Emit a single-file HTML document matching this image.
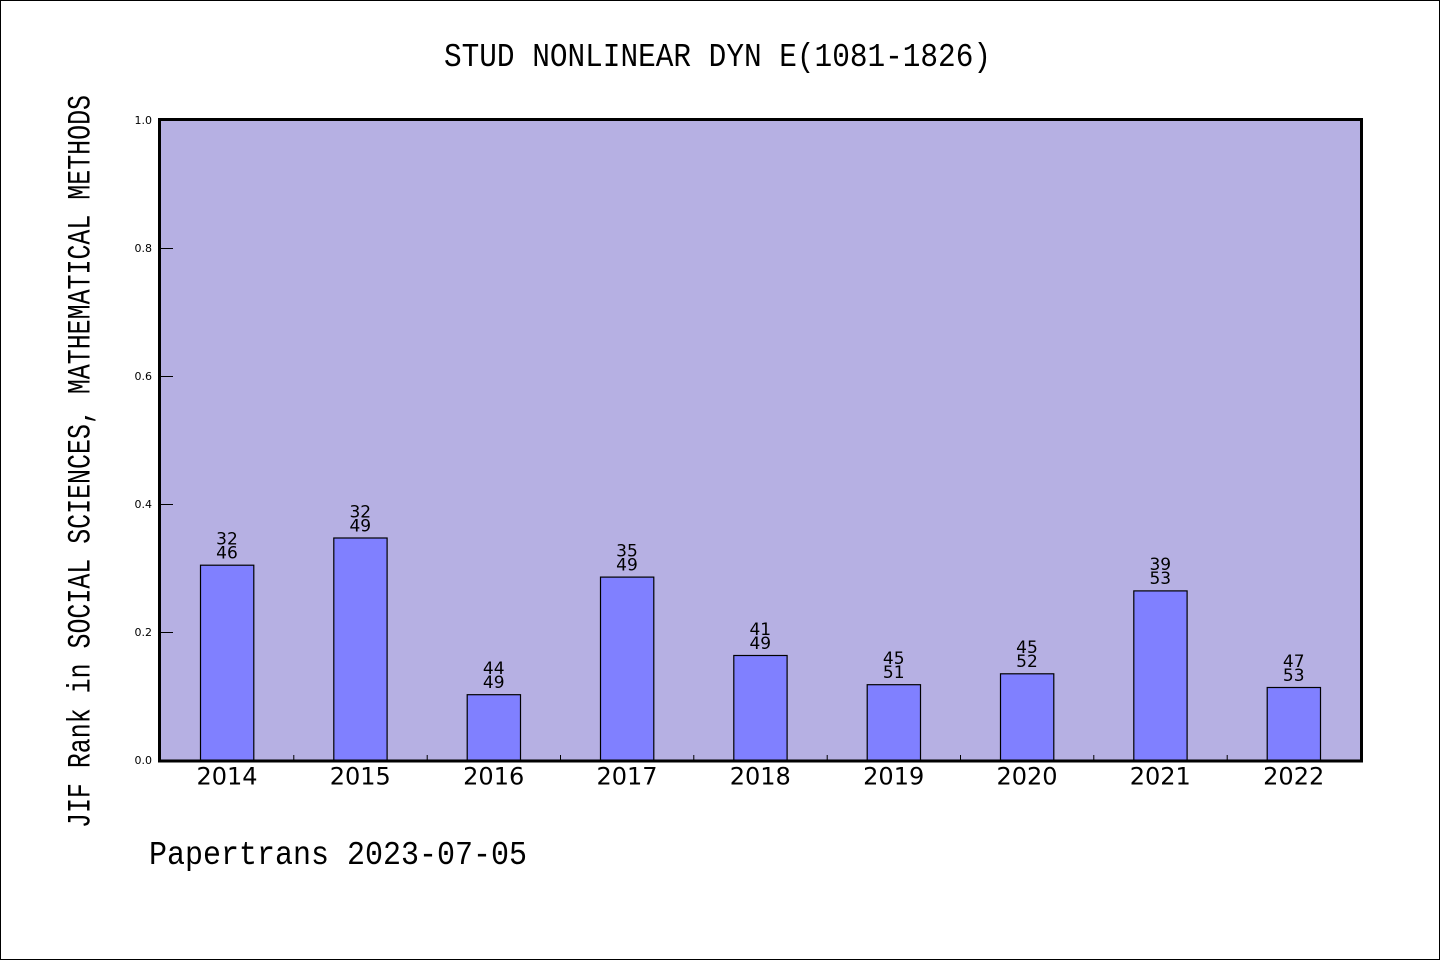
<!DOCTYPE html>
<html>
<head>
<meta charset="utf-8">
<style>
  html,body{margin:0;padding:0;background:#fff;}
  svg{display:block;}
</style>
</head>
<body>
<svg width="1440" height="960" viewBox="0 0 1440 960" xmlns="http://www.w3.org/2000/svg">
  <rect x="0.5" y="0.5" width="1439" height="959" fill="#fff" stroke="#000" stroke-width="1"/>

  <!-- title -->
  <text x="444" y="66" font-family="Liberation Mono, monospace" font-size="33" textLength="547" lengthAdjust="spacingAndGlyphs" fill="#000">STUD NONLINEAR DYN E(1081-1826)</text>

  <!-- plot background -->
  <rect x="160" y="120" width="1201" height="641" fill="#b6b0e3"/>

  <!-- y ticks -->
  <g stroke="#000" stroke-width="1">
    <line x1="161" y1="248.5" x2="173" y2="248.5"/>
    <line x1="161" y1="376.5" x2="173" y2="376.5"/>
    <line x1="161" y1="504.5" x2="173" y2="504.5"/>
    <line x1="161" y1="632.5" x2="173" y2="632.5"/>
  </g>
  <!-- x minor ticks -->
  <g stroke="#000" stroke-width="1">
    <line x1="293.8" y1="755" x2="293.8" y2="760"/>
    <line x1="427.2" y1="755" x2="427.2" y2="760"/>
    <line x1="560.5" y1="755" x2="560.5" y2="760"/>
    <line x1="693.8" y1="755" x2="693.8" y2="760"/>
    <line x1="827.2" y1="755" x2="827.2" y2="760"/>
    <line x1="960.5" y1="755" x2="960.5" y2="760"/>
    <line x1="1093.8" y1="755" x2="1093.8" y2="760"/>
    <line x1="1227.2" y1="755" x2="1227.2" y2="760"/>
  </g>

  <!-- bars -->
  <g fill="#8080ff" stroke="#000" stroke-width="1.2">
    <rect x="200.5" y="565.2" width="53.3" height="195"/>
    <rect x="333.8" y="538.0" width="53.3" height="222.2"/>
    <rect x="467.2" y="694.7" width="53.3" height="65.5"/>
    <rect x="600.5" y="577.1" width="53.3" height="183.1"/>
    <rect x="733.8" y="655.5" width="53.3" height="104.7"/>
    <rect x="867.2" y="684.7" width="53.3" height="75.5"/>
    <rect x="1000.5" y="673.8" width="53.3" height="86.4"/>
    <rect x="1133.8" y="590.9" width="53.3" height="169.3"/>
    <rect x="1267.2" y="687.5" width="53.3" height="72.7"/>
  </g>

  <!-- bar labels -->
  <g font-family="DejaVu Sans, Liberation Sans, sans-serif" font-size="17" text-anchor="middle" fill="#000">
    <text x="227" y="544.5">32</text><text x="227" y="558.5">46</text>
    <text x="360.3" y="517.3">32</text><text x="360.3" y="531.3">49</text>
    <text x="493.7" y="674">44</text><text x="493.7" y="688">49</text>
    <text x="627" y="556.4">35</text><text x="627" y="570.4">49</text>
    <text x="760.3" y="634.8">41</text><text x="760.3" y="648.8">49</text>
    <text x="893.7" y="664">45</text><text x="893.7" y="678">51</text>
    <text x="1027" y="653.1">45</text><text x="1027" y="667.1">52</text>
    <text x="1160.3" y="570.2">39</text><text x="1160.3" y="584.2">53</text>
    <text x="1293.7" y="666.8">47</text><text x="1293.7" y="680.8">53</text>
  </g>

  <!-- frame -->
  <rect x="159.5" y="119.5" width="1202" height="641.5" fill="none" stroke="#000" stroke-width="3"/>

  <!-- y tick labels -->
  <g font-family="DejaVu Sans, Liberation Sans, sans-serif" font-size="11" text-anchor="end" fill="#000">
    <text x="152" y="124">1.0</text>
    <text x="152" y="252">0.8</text>
    <text x="152" y="380">0.6</text>
    <text x="152" y="508">0.4</text>
    <text x="152" y="636">0.2</text>
    <text x="152" y="764">0.0</text>
  </g>

  <!-- x tick labels -->
  <g font-family="DejaVu Sans, Liberation Sans, sans-serif" font-size="24" text-anchor="middle" fill="#000">
    <text x="227" y="784.5">2014</text>
    <text x="360.3" y="784.5">2015</text>
    <text x="493.7" y="784.5">2016</text>
    <text x="627" y="784.5">2017</text>
    <text x="760.3" y="784.5">2018</text>
    <text x="893.7" y="784.5">2019</text>
    <text x="1027" y="784.5">2020</text>
    <text x="1160.3" y="784.5">2021</text>
    <text x="1293.7" y="784.5">2022</text>
  </g>

  <!-- y axis label -->
  <text transform="translate(89.5,828) rotate(-90)" x="0" y="0" font-family="Liberation Mono, monospace" font-size="32" textLength="733" lengthAdjust="spacingAndGlyphs" fill="#000">JIF Rank in SOCIAL SCIENCES, MATHEMATICAL METHODS</text>

  <!-- footer -->
  <text x="149" y="864" font-family="Liberation Mono, monospace" font-size="33" textLength="378" lengthAdjust="spacingAndGlyphs" fill="#000">Papertrans 2023-07-05</text>
</svg>
</body>
</html>
